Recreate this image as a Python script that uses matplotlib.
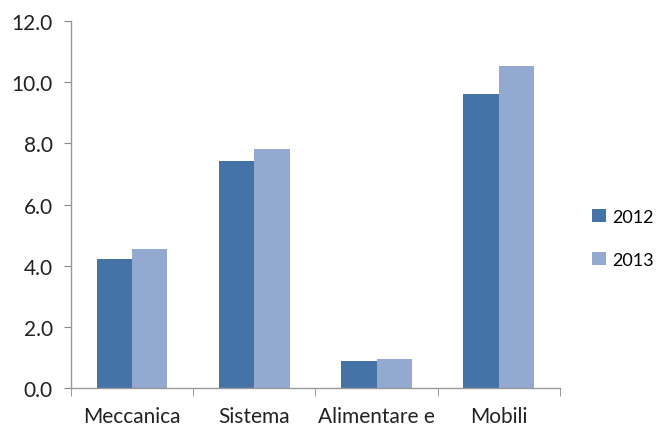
import numpy as np
import matplotlib.pyplot as plt
from matplotlib.ticker import FormatStrFormatter, FixedLocator

categorie = ['Meccanica', 'Sistema', 'Alimentare e', 'Mobili']
valori_2012 = [4.23, 7.43, 0.87, 9.62]
valori_2013 = [4.55, 7.81, 0.95, 10.52]
anni = ['2012', '2013']

plt.rcParams['font.family'] = ['Lato', 'DejaVu Sans']

fig = plt.figure(figsize=(6.62, 4.27), dpi=100)
ax = fig.add_axes([0.107, 0.089, 0.739, 0.859])

x = np.arange(len(categorie))
w = 0.29
ax.bar(x - w / 2, valori_2012, w, color='#4572A7', label=anni[0])
ax.bar(x + w / 2, valori_2013, w, color='#93A9CF', label=anni[1])

ax.set_xlim(-0.5, len(categorie) - 0.5)
ax.set_ylim(0, 12)
ax.set_yticks(np.arange(0, 12.1, 2))
ax.yaxis.set_major_formatter(FormatStrFormatter('%.1f'))

# etichette al centro, tacche tra le categorie
ax.set_xticks(x)
ax.set_xticklabels(categorie)
ax.xaxis.set_minor_locator(FixedLocator(np.arange(-0.5, len(categorie), 1)))
ax.tick_params(axis='x', which='major', length=0, pad=13, labelsize=15, colors='#222222')
ax.tick_params(axis='x', which='minor', length=6, color='#888888', direction='out')
ax.tick_params(axis='y', length=5, color='#888888', pad=8, labelsize=15, labelcolor='#222222')

for s in ['top', 'right']:
    ax.spines[s].set_visible(False)
for s in ['left', 'bottom']:
    ax.spines[s].set_color('#999999')
    ax.spines[s].set_linewidth(1.0)

fig.legend(loc='center left', bbox_to_anchor=(0.87, 0.44), frameon=False,
           fontsize=13, labelspacing=1.5, handlelength=0.75, handleheight=0.75,
           handletextpad=0.35)

fig.savefig('out.png', dpi=100)
